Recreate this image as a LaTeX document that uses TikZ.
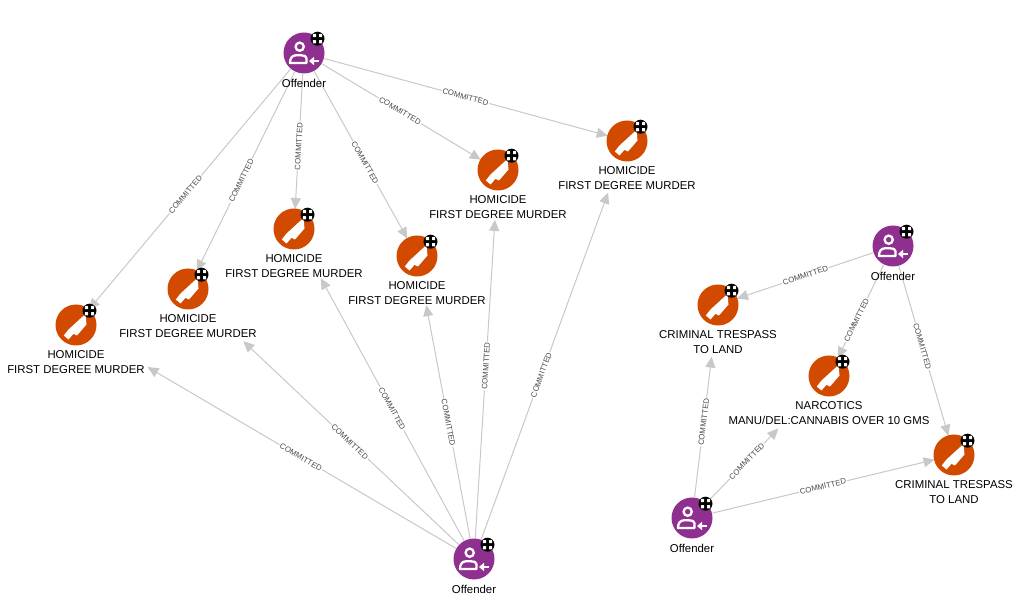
\documentclass[tikz,border=0pt]{standalone}
\usepackage{fontspec}
\setmainfont{Liberation Sans}
\usetikzlibrary{arrows.meta,calc,backgrounds}
\definecolor{offpurple}{HTML}{8F2F8F}
\definecolor{crimeorange}{HTML}{D14A00}
\definecolor{edgegray}{HTML}{C8C8C8}
\definecolor{edgetext}{HTML}{4A4A4A}
\tikzset{
  x=1pt,y=-1pt,
  offnode/.style={circle,fill=offpurple,minimum size=41pt,inner sep=0pt},
  crimenode/.style={circle,fill=crimeorange,minimum size=41pt,inner sep=0pt},
  caption/.style={font=\fontsize{11.4}{15}\selectfont,align=center,text=black,inner sep=0pt},
  link/.style={draw=edgegray,line width=1pt,-{Triangle[length=11pt,width=10pt,fill=edgegray]}},
  linklabel/.style={sloped,font=\fontsize{7.8}{8}\selectfont,text=edgetext,fill=white,inner sep=1pt},
  personicon/.pic={
    \draw[white,line width=2.3pt] (-4.3,-6.3) circle (4.1);
    \draw[white,line width=2.3pt,line join=round] (-14,10) -- (2.4,10) -- (2.4,5) .. controls (2.4,3) and (0,2.3) .. (-3,2.3) -- (-8,2.3) .. controls (-12,2.3) and (-14,5.5) .. (-14,10) -- cycle;
    \draw[white,line width=2.2pt] (15,8) -- (8,8);
    \fill[white] (5,8) -- (10,3.8) -- (10,12.2) -- cycle;
  },
  knifeicon/.pic={
    \fill[white] (9.5,-11) -- (10.5,-0.5) -- (1,10.5) -- (-2.5,8.8) -- (-7.5,14.5) -- (-12.2,10.5) -- (-7.5,4.5) -- cycle;
  },
  badgeicon/.pic={
    \fill[black] (0,0) circle (7);
    \foreach \sx in {-1,1}{
      \foreach \sy in {-1,1}{
        \fill[white,rounded corners=0.5pt] ({\sx*3.1-1.6},{\sy*3.1-1.6}) rectangle ({\sx*3.1+1.6},{\sy*3.1+1.6});
      }
    }
    \fill[black] (0,0) circle (1.3);
  },
}
\newcommand{\offendernode}[3]{%
  \node[offnode] (#1) at (#2,#3) {};
  \pic at (#1) {personicon};
  \pic at ($(#1)+(13.5,-14.3)$) {badgeicon};
  \node[caption] (#1l) at (#2,#3+30) {Offender};
}
\newcommand{\crimenode}[4]{%
  \node[crimenode] (#1) at (#2,#3) {};
  \pic at (#1) {knifeicon};
  \pic at ($(#1)+(13.5,-14.3)$) {badgeicon};
  \node[caption,anchor=north] (#1l) at (#2,#3+25) {#4};
}
\newcommand{\link}[4]{%
  \draw[link,shorten <=21pt,shorten >=#3pt] (#1.center) -- node[linklabel,pos=#4] {COMMITTED} (#2.center);
}
\begin{document}
\begin{tikzpicture}
\useasboundingbox (0,0) rectangle (1018,601);
\def\hom{HOMICIDE\\FIRST DEGREE MURDER}
\def\tres{CRIMINAL TRESPASS\\TO LAND}
\offendernode{O1}{304}{53}
\offendernode{O2}{474}{559}
\offendernode{O3}{893}{246}
\offendernode{O4}{692}{518}
\crimenode{H1}{627}{141}{\hom}
\crimenode{H2}{498}{170}{\hom}
\crimenode{H3}{417}{256}{\hom}
\crimenode{H4}{294}{229}{\hom}
\crimenode{H5}{188}{289}{\hom}
\crimenode{H6}{76}{325}{\hom}
\crimenode{C1}{718}{305}{\tres}
\crimenode{N}{829}{376}{NARCOTICS\\MANU/DEL:CANNABIS OVER 10 GMS}
\crimenode{C2}{954}{455}{\tres}
\begin{scope}[on background layer]
\link{O1}{H1}{20}{0.5}
\link{O1}{H2}{20}{0.495}
\link{O1}{H3}{20}{0.54}
\link{O1}{H4}{20}{0.53}
\link{O1}{H5}{20}{0.54}
\link{O1}{H6}{20}{0.52}
\link{O2}{H6}{83}{0.435}
\link{O2}{H5}{76}{0.434}
\link{O2}{H4}{56}{0.455}
\link{O2}{H3}{50}{0.45}
\link{O2}{H2}{50}{0.496}
\link{O2}{H1}{55}{0.44}
\link{O3}{C1}{20}{0.5}
\link{O3}{N}{20}{0.57}
\link{O3}{C2}{20}{0.48}
\link{O4}{C1}{52}{0.45}
\link{O4}{N}{73}{0.4}
\link{O4}{C2}{20}{0.5}
\end{scope}
\end{tikzpicture}
\end{document}
